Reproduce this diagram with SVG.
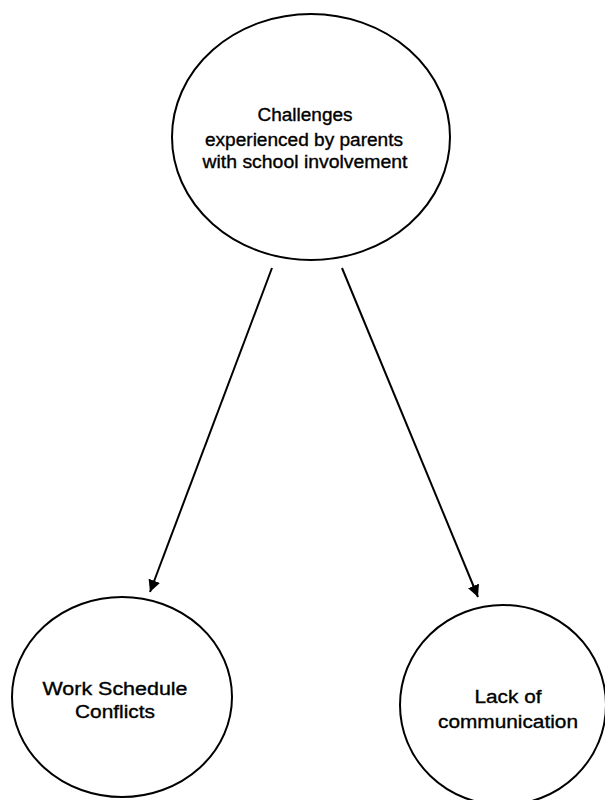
<svg xmlns="http://www.w3.org/2000/svg" width="605" height="800" viewBox="0 0 605 800">
<style>
.node{fill:#fff;stroke:#000;stroke-width:2}
.lbl{font-family:"Liberation Sans",Arial,sans-serif;font-size:18px;fill:#000;stroke:#000;stroke-width:0.35;text-anchor:middle}
.edge{stroke:#000;stroke-width:2;fill:none}
</style>
<defs>
<marker id="arr" viewBox="0 0 10 10" refX="10" refY="5" markerWidth="6" markerHeight="6" orient="auto" markerUnits="strokeWidth">
<path d="M0,0 L10,5 L0,10 z" fill="#000"/>
</marker>
</defs>
<rect width="605" height="800" fill="#fff"/>
<g id="edges">
<line class="edge" x1="272" y1="268" x2="150" y2="592" marker-end="url(#arr)"/>
<line class="edge" x1="342" y1="268" x2="478" y2="597" marker-end="url(#arr)"/>
</g>
<g id="n-challenges">
<ellipse class="node" cx="311" cy="137" rx="139" ry="123"/>
<text class="lbl" x="305" y="121" textLength="95" lengthAdjust="spacingAndGlyphs">Challenges</text>
<text class="lbl" x="304" y="146" textLength="198" lengthAdjust="spacingAndGlyphs">experienced by parents</text>
<text class="lbl" x="305" y="168" textLength="205" lengthAdjust="spacingAndGlyphs">with school involvement</text>
</g>
<g id="n-work">
<ellipse class="node" cx="122" cy="697" rx="110" ry="100"/>
<text class="lbl" x="115" y="695" textLength="145" lengthAdjust="spacingAndGlyphs">Work Schedule</text>
<text class="lbl" x="115" y="718" textLength="80" lengthAdjust="spacingAndGlyphs">Conflicts</text>
</g>
<g id="n-lack">
<ellipse class="node" cx="503" cy="705" rx="103" ry="100"/>
<text class="lbl" x="508" y="703" textLength="67" lengthAdjust="spacingAndGlyphs">Lack of</text>
<text class="lbl" x="508" y="728" textLength="140" lengthAdjust="spacingAndGlyphs">communication</text>
</g>
</svg>
